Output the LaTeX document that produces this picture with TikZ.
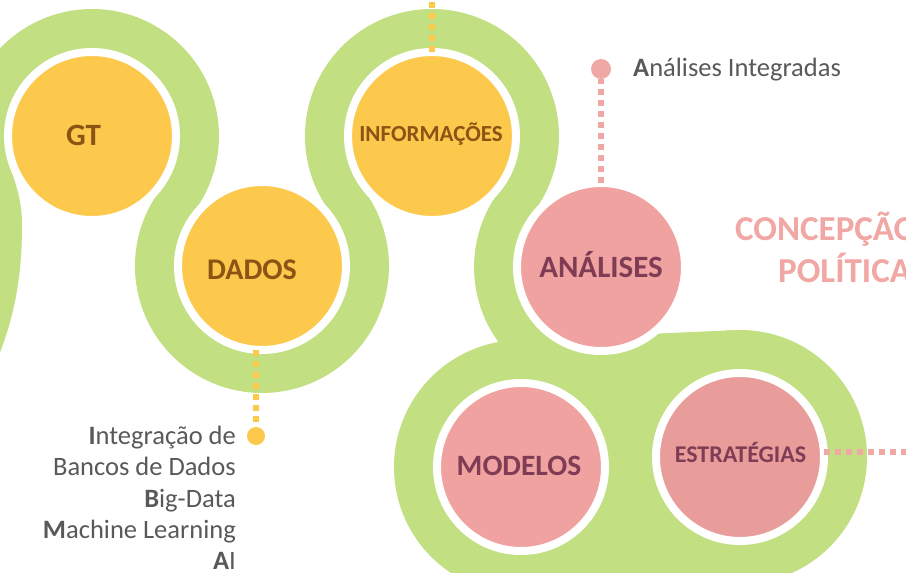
\documentclass[tikz,border=0pt]{standalone}
\usepackage{fontspec}
\setmainfont{Carlito}
\usetikzlibrary{calc}
\definecolor{bandgreen}{RGB}{194,224,130}
\definecolor{cyellow}{RGB}{252,201,76}
\definecolor{ybrown}{RGB}{139,84,20}
\definecolor{cpink}{RGB}{239,162,159}
\definecolor{cpinkb}{RGB}{232,157,155}
\definecolor{pmauve}{RGB}{127,60,84}
\definecolor{ptitle}{RGB}{241,167,164}
\definecolor{pdot}{RGB}{240,168,165}
\definecolor{notegray}{RGB}{89,89,89}
\begin{document}
\begin{tikzpicture}[x=1pt,y=-1pt,
  band/.style={draw=bandgreen, line width=40pt, line join=round},
  disc/.style={circle, minimum size=168pt, inner sep=0pt, outer sep=0pt, draw=white, line width=8pt},
  ydisc/.style={disc, fill=cyellow},
  pdisc/.style={disc, fill=cpink},
  ylab/.style={text=ybrown, anchor=base, inner sep=0pt},
  plab/.style={text=pmauve, anchor=base, inner sep=0pt},
  ydots/.style={draw=cyellow, line width=6pt, dash pattern=on 6pt off 5pt},
  pdots/.style={draw=pdot, line width=6pt, dash pattern=on 6pt off 5pt},
  note/.style={text=notegray, anchor=base east, inner sep=0pt, font=\fontsize{26.5}{30}\selectfont},
  ptitlestyle/.style={text=ptitle, anchor=base west, inner sep=0pt, font=\fontsize{35}{40}\selectfont\bfseries},
]
\useasboundingbox (0,0) rectangle (906,573);
\fill[white] (0,0) rectangle (906,573);
\clip (0,0) rectangle (906,573);

% centres
\coordinate (gtc) at (92,136);
\coordinate (dadc) at (262,266);
\coordinate (infc) at (432,136);
\coordinate (anac) at (601,267);
\coordinate (modc) at (521,467);
\coordinate (estc) at (740,457);

% green snake band
\draw[band] (-45,400) .. controls (-8,335) and (2,285) .. (2,225)
  .. controls (2,195) and (-9.1,179.2) .. (-13.4,154.6)
  arc[start angle=170, end angle=397.4, radius=107]
  arc[start angle=217.4, end angle=-37.4, radius=107]
  arc[start angle=142.6, end angle=397.8, radius=107]
  arc[start angle=217.8, end angle=100, radius=107];

% green blob
\fill[bandgreen] (modc) circle[radius=127];
\fill[bandgreen] (estc) circle[radius=127];
\fill[bandgreen] (515.2,340.1) -- (734.2,330.1) -- (745.8,583.9) -- (526.8,593.9) -- cycle;

% circles
\node[ydisc] (gt) at (gtc) {};
\node[ydisc] (dados) at (dadc) {};
\node[ydisc] (info) at (infc) {};
\node[pdisc] (ana) at (anac) {};
\node[pdisc] (mod) at (modc) {};
\node[disc, fill=cpinkb] (est) at (estc) {};

% dotted connectors
\coordinate (infotop) at (432,-6);
\draw[ydots] (info.north) -- (infotop);
\node[circle, fill=cyellow, minimum size=18pt, inner sep=0pt] (ddot) at (256,436) {};
\draw[ydots] (dados.south -| ddot) -- (ddot.north);
\node[circle, fill=pdot, minimum size=20pt, inner sep=0pt] (adot) at (601,69) {};
\draw[pdots] (ana.north) -- (adot.south);
\coordinate (estout) at (912,452);
\draw[pdots] (est.east |- estout) -- (estout);

% circle labels
\node[ylab, font=\fontsize{31}{31}\selectfont\bfseries] (tgt) at (83.5,145) {GT};
\node[ylab, font=\fontsize{30}{30}\selectfont\bfseries] (tdados) at (252,279) {DADOS};
\node[ylab, font=\fontsize{23}{23}\selectfont\bfseries] (tinfo) at (431,141) {INFORMAÇÕES};
\node[plab, font=\fontsize{31}{31}\selectfont\bfseries] (tana) at (601,277) {ANÁLISES};
\node[plab, font=\fontsize{29.5}{29.5}\selectfont\bfseries] (tmod) at (519,475) {MODELOS};
\node[plab, font=\fontsize{24}{24}\selectfont\bfseries] (test) at (740.5,462) {ESTRATÉGIAS};

% title at right
\node[ptitlestyle] (conc) at (735,240) {CONCEPÇÃO};
\node[ptitlestyle] (poli) at (778,282) {POLÍTICA};

% notes
\node[text=notegray, anchor=base west, inner sep=0pt, font=\fontsize{26.5}{30}\selectfont] (nana) at (633,76) {\textbf{A}nálises Integradas};
\node[note] (n1) at (236,444) {\textbf{I}ntegração de};
\node[note] (n2) at (236,475.5) {Bancos de Dados};
\node[note] (n3) at (236,507) {\textbf{B}ig-Data};
\node[note] (n4) at (236,538.5) {\textbf{M}achine Learning};
\node[note] (n5) at (236,569.5) {\textbf{A}I};
\end{tikzpicture}
\end{document}
